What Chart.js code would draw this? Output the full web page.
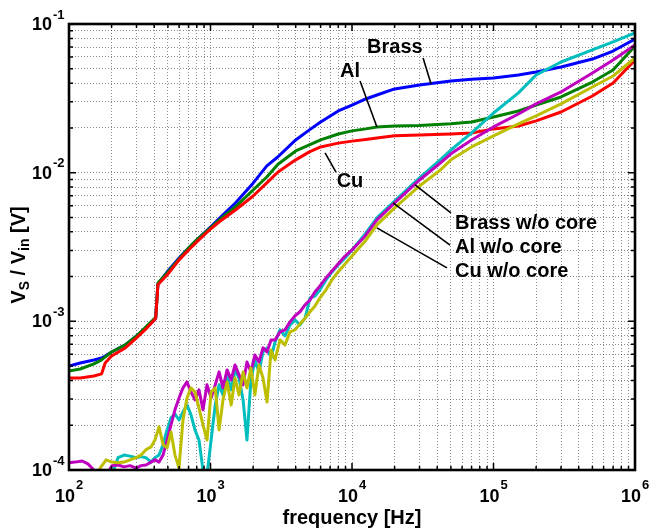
<!DOCTYPE html>
<html>
<head>
<meta charset="utf-8">
<script src="https://cdn.jsdelivr.net/npm/chart.js@4.4.1/dist/chart.umd.min.js"></script>
<style>
  html, body { margin: 0; padding: 0; background: #fff; }
  canvas { display: block; }
</style>
</head>
<body>
<canvas id="plot" width="649" height="530"></canvas>
<script>
// frequency points (Hz)
const freqCore = [100, 120, 150, 170, 180, 200, 250, 300, 350, 400,
  410, 425, 500, 600, 700, 800, 1000, 1200, 1500, 2000,
  2500, 3000, 4000, 5000, 6000, 8000, 10000, 12500, 15000, 20000,
  30000, 50000, 70000, 100000, 150000, 200000, 300000, 500000, 700000, 1000000];

const freqBare = [100, 110, 124, 136, 150, 166, 183, 201, 222, 245,
  270, 298, 323, 350, 380, 405, 433, 462, 493, 526,
  561, 599, 639, 682, 728, 777, 829, 885, 945,
  1010, 1080, 1150, 1225, 1310, 1400, 1490, 1590, 1700, 1810,
  1930, 2060, 2200, 2350, 2510, 2680, 2860, 3100, 3360, 3650,
  3960, 4290, 4660, 5050, 5480, 5940, 6550, 7220, 7970, 8930,
  10000,
  12400, 15000, 20000, 30000, 42000, 50000, 70000, 100000, 150000, 200000,
  300000, 500000, 700000, 1000000];

// V_S / V_in with core
const brass = [5.01e-4, 5.25e-4, 5.50e-4, 5.67e-4, 5.85e-4, 6.22e-4, 6.94e-4, 7.97e-4, 9.03e-4, 1.02e-3,
  1.05e-3, 1.78e-3, 2.18e-3, 2.67e-3, 3.11e-3, 3.53e-3, 4.31e-3, 5.11e-3, 6.25e-3, 8.50e-3,
  1.11e-2, 1.28e-2, 1.66e-2, 1.94e-2, 2.19e-2, 2.60e-2, 2.85e-2, 3.13e-2, 3.33e-2, 3.66e-2,
  3.89e-2, 4.14e-2, 4.25e-2, 4.33e-2, 4.54e-2, 4.75e-2, 5.14e-2, 5.81e-2, 6.58e-2, 7.93e-2];

const al = [4.64e-4, 4.78e-4, 5.17e-4, 5.50e-4, 5.76e-4, 6.22e-4, 6.94e-4, 7.97e-4, 9.17e-4, 1.04e-3,
  1.07e-3, 1.81e-3, 2.15e-3, 2.63e-3, 3.11e-3, 3.53e-3, 4.25e-3, 4.96e-3, 5.88e-3, 7.65e-3,
  9.35e-3, 1.14e-2, 1.40e-2, 1.54e-2, 1.66e-2, 1.82e-2, 1.91e-2, 1.97e-2, 2.03e-2, 2.06e-2,
  2.08e-2, 2.13e-2, 2.19e-2, 2.37e-2, 2.60e-2, 2.85e-2, 3.23e-2, 4.07e-2, 4.91e-2, 7.11e-2];

const cu = [4.16e-4, 4.16e-4, 4.29e-4, 4.43e-4, 5.25e-4, 5.85e-4, 6.62e-4, 7.73e-4, 8.89e-4, 1.02e-3,
  1.05e-3, 1.76e-3, 2.08e-3, 2.59e-3, 3.02e-3, 3.42e-3, 4.18e-3, 4.81e-3, 5.61e-3, 6.97e-3,
  8.53e-3, 1.01e-2, 1.22e-2, 1.38e-2, 1.49e-2, 1.58e-2, 1.63e-2, 1.67e-2, 1.71e-2, 1.77e-2,
  1.79e-2, 1.82e-2, 1.85e-2, 1.97e-2, 2.06e-2, 2.23e-2, 2.56e-2, 3.28e-2, 4.01e-2, 5.73e-2];

// V_S / V_in without core
const brassBare = [7.35e-5, 7.35e-5, 7.35e-5, 7.35e-5, 7.35e-5, 7.35e-5, 7.58e-5, 9.27e-5, 1.21e-4, 1.26e-4,
  1.24e-4, 1.21e-4, 1.23e-4, 1.21e-4, 1.13e-4, 1.21e-4, 1.26e-4, 1.48e-4, 1.86e-4, 2.24e-4,
  2.38e-4, 2.17e-4, 2.46e-4, 2.74e-4, 2.35e-4, 1.86e-4, 1.59e-4, 1.00e-4, 9.27e-5,
  1.59e-4, 2.74e-4, 3.74e-4, 3.20e-4, 4.36e-4, 3.46e-4, 4.71e-4, 4.16e-4, 2.96e-4, 1.59e-4,
  4.04e-4, 5.50e-4, 4.57e-4, 6.23e-4, 6.63e-4, 5.68e-4, 7.27e-4, 8.76e-4, 7.98e-4, 9.46e-4,
  1.02e-3, 9.46e-4, 1.05e-3, 1.44e-3, 1.48e-3, 1.63e-3, 1.90e-3, 2.15e-3, 2.40e-3, 2.67e-3,
  3.02e-3,
  3.87e-3, 4.96e-3, 6.45e-3, 9.22e-3, 1.22e-2, 1.42e-2, 1.85e-2, 2.52e-2, 3.44e-2, 4.54e-2,
  5.55e-2, 6.69e-2, 7.57e-2, 8.70e-2];

const alBare = [1.12e-4, 1.13e-4, 1.15e-4, 1.10e-4, 1.00e-4, 8.85e-5, 9.13e-5, 1.07e-4, 1.08e-4, 1.05e-4,
  1.07e-4, 1.03e-4, 1.07e-4, 1.08e-4, 1.13e-4, 1.17e-4, 1.13e-4, 1.26e-4, 1.59e-4, 2.01e-4,
  2.54e-4, 3.05e-4, 3.57e-4, 3.91e-4, 3.35e-4, 2.96e-4, 3.46e-4, 2.54e-4, 3.74e-4,
  3.05e-4, 3.74e-4, 4.57e-4, 3.57e-4, 4.71e-4, 4.04e-4, 5.09e-4, 4.36e-4, 3.74e-4, 5.33e-4,
  4.57e-4, 5.94e-4, 5.33e-4, 6.63e-4, 6.23e-4, 7.50e-4, 7.50e-4, 8.49e-4, 8.76e-4, 9.91e-4,
  1.09e-3, 1.16e-3, 1.29e-3, 1.39e-3, 1.58e-3, 1.73e-3, 1.96e-3, 2.18e-3, 2.43e-3, 2.75e-3,
  3.02e-3,
  3.75e-3, 4.81e-3, 6.26e-3, 8.93e-3, 1.16e-2, 1.34e-2, 1.66e-2, 2.03e-2, 2.48e-2, 2.90e-2,
  3.49e-2, 4.68e-2, 5.73e-2, 7.22e-2];

const cuBare = [6.80e-5, 6.80e-5, 7.13e-5, 7.58e-5, 8.58e-5, 1.03e-4, 1.17e-4, 1.13e-4, 1.12e-4, 1.13e-4,
  1.17e-4, 1.21e-4, 1.26e-4, 1.37e-4, 1.43e-4, 1.59e-4, 1.95e-4, 1.48e-4, 1.41e-4, 1.80e-4,
  1.26e-4, 1.03e-4, 2.17e-4, 3.05e-4, 3.57e-4, 3.35e-4, 2.62e-4, 2.01e-4, 1.59e-4,
  3.35e-4, 3.57e-4, 1.86e-4, 2.96e-4, 3.91e-4, 2.74e-4, 4.16e-4, 3.20e-4, 4.57e-4, 3.57e-4,
  4.86e-4, 3.20e-4, 5.09e-4, 4.16e-4, 2.87e-4, 6.42e-4, 5.50e-4, 7.50e-4, 6.94e-4, 8.49e-4,
  8.76e-4, 9.61e-4, 1.05e-3, 1.16e-3, 1.27e-3, 1.44e-3, 1.63e-3, 1.90e-3, 2.15e-3, 2.43e-3,
  2.75e-3,
  3.47e-3, 4.45e-3, 5.79e-3, 8.14e-3, 1.04e-2, 1.22e-2, 1.49e-2, 1.77e-2, 2.13e-2, 2.41e-2,
  2.90e-2, 3.77e-2, 4.47e-2, 5.91e-2];

// axis decades (exponents) used for tick labels
const xExps = [2, 3, 4, 5, 6];
const yExps = [-4, -3, -2, -1];

// curve labels: text anchor and leader line, in data units
const notes = [
  { text: 'Brass', at: [2.01e4, 6.90e-2], align: 'center', from: [3.18e4, 5.91e-2], to: [3.62e4, 3.95e-2] },
  { text: 'Al', at: [9.68e3, 4.76e-2], align: 'center', from: [1.14e4, 4.14e-2], to: [1.50e4, 2.03e-2] },
  { text: 'Cu', at: [9.68e3, 8.66e-3], align: 'center', from: [6.45e3, 1.36e-2], to: [7.71e3, 1.01e-2] },
  { text: 'Brass w/o core', at: [5.34e4, 4.52e-3], align: 'left', from: [2.79e4, 8.27e-3], to: [5.00e4, 5.36e-3] },
  { text: 'Al w/o core', at: [5.34e4, 3.12e-3], align: 'left', from: [1.95e4, 6.26e-3], to: [4.93e4, 3.26e-3] },
  { text: 'Cu w/o core', at: [5.34e4, 2.18e-3], align: 'left', from: [1.50e4, 4.25e-3], to: [4.69e4, 2.29e-3] }
];

const FONT = '"Liberation Sans", Arial, Helvetica, sans-serif';

function pts(xs, ys) {
  return xs.map((f, i) => ({ x: f, y: ys[i] }));
}

function decadeTicks(lo, hi) {
  const out = [];
  for (let e = lo; e < hi; e++) {
    for (let m = 1; m <= 9; m++) {
      out.push({ value: m * Math.pow(10, e), major: m === 1 });
    }
  }
  out.push({ value: Math.pow(10, hi), major: true });
  return out;
}

function series(label, data, color) {
  return {
    label, data,
    borderColor: color,
    borderWidth: 3,
    pointRadius: 0,
    tension: 0,
    fill: false,
    borderJoinStyle: 'round',
    borderCapStyle: 'round'
  };
}

// draws "10" with a superscript exponent
function powerLabel(ctx, exp, xRight, yMid, supDy) {
  ctx.font = 'bold 18px ' + FONT;
  ctx.textAlign = 'right';
  ctx.textBaseline = 'middle';
  ctx.fillText('10', xRight, yMid);
  ctx.font = 'bold 13px ' + FONT;
  ctx.textAlign = 'left';
  ctx.fillText(String(exp), xRight + 1, yMid + supDy);
}

const decorations = {
  id: 'decorations',
  afterDatasetsDraw(chart) {
    const { ctx, scales: { x, y } } = chart;
    ctx.save();
    ctx.strokeStyle = '#000';
    ctx.fillStyle = '#000';
    ctx.lineWidth = 1.6;
    ctx.font = 'bold 20px ' + FONT;
    ctx.textBaseline = 'middle';
    notes.forEach(n => {
      ctx.beginPath();
      ctx.moveTo(x.getPixelForValue(n.from[0]), y.getPixelForValue(n.from[1]));
      ctx.lineTo(x.getPixelForValue(n.to[0]), y.getPixelForValue(n.to[1]));
      ctx.stroke();
      ctx.textAlign = n.align;
      ctx.fillText(n.text, x.getPixelForValue(n.at[0]), y.getPixelForValue(n.at[1]));
    });
    ctx.restore();
  },
  afterDraw(chart) {
    const { ctx, chartArea: a, scales: { x, y } } = chart;
    ctx.save();
    ctx.strokeStyle = '#000';
    ctx.fillStyle = '#000';

    // inward tick marks on all four sides
    ctx.lineWidth = 1.5;
    ctx.beginPath();
    x.ticks.forEach(t => {
      const px = x.getPixelForValue(t.value);
      const len = t.major ? 7 : 4;
      ctx.moveTo(px, a.bottom); ctx.lineTo(px, a.bottom - len);
      ctx.moveTo(px, a.top); ctx.lineTo(px, a.top + len);
    });
    y.ticks.forEach(t => {
      const py = y.getPixelForValue(t.value);
      const len = t.major ? 7 : 4;
      ctx.moveTo(a.left, py); ctx.lineTo(a.left + len, py);
      ctx.moveTo(a.right, py); ctx.lineTo(a.right - len, py);
    });
    ctx.stroke();

    // frame
    ctx.lineWidth = 2.6;
    ctx.strokeRect(a.left, a.top, a.right - a.left, a.bottom - a.top);

    // tick labels
    xExps.forEach(e => {
      const px = x.getPixelForValue(Math.pow(10, e));
      powerLabel(ctx, e, px + 6, a.bottom + 27, -12);
    });
    yExps.forEach(e => {
      const py = y.getPixelForValue(Math.pow(10, e));
      powerLabel(ctx, e, a.left - 17, py + 1, -10);
    });

    // x title
    ctx.font = 'bold 20px ' + FONT;
    ctx.textAlign = 'center';
    ctx.textBaseline = 'middle';
    ctx.fillText('frequency [Hz]', (a.left + a.right) / 2, 518);

    // y title with subscripts, rotated
    const parts = [['V', false], ['S', true], [' / V', false], ['in', true], [' [V]', false]];
    const big = 'bold 20px ' + FONT, small = 'bold 14px ' + FONT;
    let total = 0;
    parts.forEach(([s, sub]) => { ctx.font = sub ? small : big; total += ctx.measureText(s).width; });
    ctx.translate(19, 255);
    ctx.rotate(-Math.PI / 2);
    ctx.textAlign = 'left';
    ctx.textBaseline = 'middle';
    let cx = -total / 2;
    parts.forEach(([s, sub]) => {
      ctx.font = sub ? small : big;
      ctx.fillText(s, cx, sub ? 6 : 0);
      cx += ctx.measureText(s).width;
    });
    ctx.restore();
  }
};

const gridStyle = { color: 'rgba(0,0,0,0.45)', lineWidth: 1, drawTicks: false };

new Chart(document.getElementById('plot'), {
  type: 'line',
  data: {
    datasets: [
      series('Cu w/o core', pts(freqBare, cuBare), 'rgb(190,190,0)'),
      series('Al w/o core', pts(freqBare, alBare), 'rgb(190,0,190)'),
      series('Brass w/o core', pts(freqBare, brassBare), 'rgb(0,190,190)'),
      series('Cu', pts(freqCore, cu), 'rgb(255,0,0)'),
      series('Al', pts(freqCore, al), 'rgb(0,128,0)'),
      series('Brass', pts(freqCore, brass), 'rgb(0,0,255)')
    ]
  },
  options: {
    responsive: false,
    animation: false,
    layout: { padding: { top: 24, right: 14, left: 0, bottom: 0 } },
    plugins: { legend: { display: false }, tooltip: { enabled: false } },
    scales: {
      x: {
        type: 'logarithmic', min: 1e2, max: 1e6,
        ticks: { display: false },
        grid: gridStyle,
        border: { display: false, dash: [1, 2] },
        afterBuildTicks: s => { s.ticks = decadeTicks(2, 6); },
        afterFit: s => { s.height = 60; }
      },
      y: {
        type: 'logarithmic', min: 1e-4, max: 1e-1,
        ticks: { display: false },
        grid: gridStyle,
        border: { display: false, dash: [1, 2] },
        afterBuildTicks: s => { s.ticks = decadeTicks(-4, -1); },
        afterFit: s => { s.width = 69; }
      }
    }
  },
  plugins: [decorations]
});
</script>
</body>
</html>
